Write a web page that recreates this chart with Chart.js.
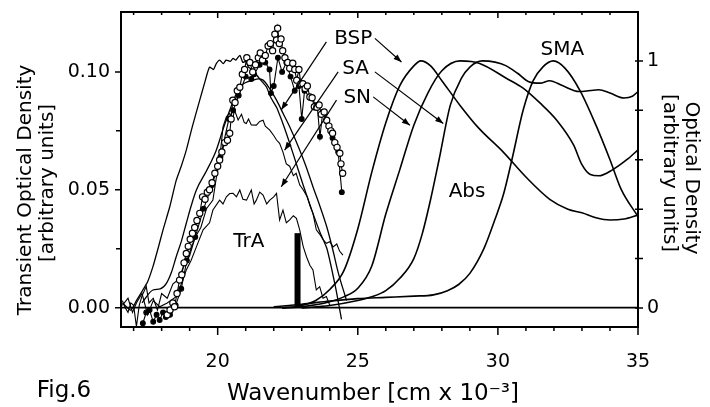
<!DOCTYPE html>
<html>
<head>
<meta charset="utf-8">
<script src="https://cdn.jsdelivr.net/npm/chart.js@4.4.1/dist/chart.umd.min.js"></script>
<style>
  html, body { margin: 0; padding: 0; background: #fff; }
  #wrap { width: 710px; height: 407px; }
</style>
</head>
<body>
<div id="wrap"><canvas id="chart" width="710" height="407"></canvas></div>
<script>
// tick labels
const xTickLabels = [20, 25, 30, 35];
const yLeftTickLabels = ['0.00', '0.05', '0.10'];
const yRightTickLabels = ['0', '1'];

// absorption spectra, right axis [x 10^3 cm-1, OD]
const absBSP = [[22.3,0.0],[23.0,0.01],[23.5,0.03],[24.0,0.075],[24.5,0.15],[25.0,0.32],[25.5,0.55],[26.0,0.75],
  [26.5,0.9],[27.0,0.98],[27.25,1.0],[27.6,0.98],[28.0,0.92],[28.65,0.82],[29.3,0.73],[30.2,0.63],[31.0,0.53],
  [31.85,0.44],[32.5,0.40],[33.0,0.385],[33.5,0.365],[34.0,0.356],[34.5,0.36],[35.0,0.376]];
const absSN = [[22.3,0.0],[23.0,0.005],[24.0,0.025],[24.5,0.045],[25.0,0.08],[25.5,0.17],[26.0,0.38],[26.5,0.56],
  [27.0,0.74],[27.5,0.87],[28.0,0.96],[28.65,1.0],[29.35,0.99],[30.3,0.93],[30.9,0.89],[31.5,0.83],[32.1,0.76],
  [32.7,0.66],[33.0,0.58],[33.3,0.54],[33.6,0.535],[34.1,0.56],[34.6,0.6],[35.0,0.64]];
const absSA = [[23.0,0.0],[24.0,0.01],[25.0,0.03],[25.5,0.045],[26.0,0.07],[26.5,0.12],[27.0,0.2],[27.3,0.3],
  [27.6,0.44],[27.9,0.6],[28.3,0.82],[28.7,0.93],[29.0,0.975],[29.45,1.0],[29.9,0.995],[30.3,0.98],[30.7,0.95],
  [31.1,0.916],[31.5,0.91],[31.85,0.92],[32.3,0.9],[32.9,0.876],[33.3,0.88],[33.6,0.883],[34.0,0.87],[34.5,0.85],
  [34.8,0.857],[35.0,0.876]];
const absSMA = [[22.0,0.005],[23.0,0.015],[24.0,0.028],[25.0,0.038],[26.0,0.043],[27.0,0.048],[27.7,0.053],
  [28.2,0.07],[28.6,0.095],[29.0,0.14],[29.5,0.24],[29.9,0.36],[30.2,0.46],[30.5,0.6],[30.9,0.8],[31.26,0.92],
  [31.6,0.975],[31.98,1.0],[32.4,0.97],[32.93,0.88],[33.5,0.74],[34.0,0.6],[34.4,0.48],[35.0,0.37]];

// transient absorption, left axis
const traBspOpen = [[18.20,-0.003],[18.30,-0.001],[18.40,0.002],[18.46,0.0004],[18.55,0.006],
  [18.64,0.0117],[18.72,0.014],[18.80,0.019],[18.88,0.023],[18.95,0.026],
  [19.02,0.029],[19.10,0.0316],[19.18,0.034],[19.26,0.037],[19.36,0.040],
  [19.46,0.047],[19.55,0.046],[19.63,0.049],[19.71,0.050],[19.80,0.053],
  [19.90,0.057],[20.00,0.060],[20.07,0.0626],[20.15,0.066],[20.25,0.070],
  [20.35,0.071],[20.43,0.074],[20.48,0.080],[20.54,0.088],[20.62,0.087],
  [20.70,0.092],[20.79,0.0935],[20.88,0.099],[20.96,0.101],[21.04,0.106],
  [21.15,0.104],[21.25,0.100],[21.35,0.103],[21.45,0.106],[21.52,0.108],
  [21.60,0.105],[21.70,0.107],[21.80,0.111],[21.88,0.112],[21.96,0.109],
  [22.04,0.116],[22.10,0.1135],[22.14,0.1185],[22.20,0.112],[22.26,0.114],
  [22.32,0.109],[22.40,0.106],[22.50,0.104],[22.57,0.1015],[22.68,0.1037],
  [22.75,0.101],[22.82,0.0965],[22.90,0.101],[22.97,0.095],[23.04,0.095],
  [23.12,0.093],[23.20,0.094],[23.29,0.0894],[23.37,0.089],[23.45,0.0852],
  [23.54,0.085],[23.62,0.086],[23.70,0.082],[23.80,0.083],[23.89,0.0795],
  [23.97,0.077],[24.04,0.075],[24.10,0.074],[24.18,0.070],[24.26,0.068],
  [24.36,0.0655],[24.40,0.061],[24.46,0.057]];
const traBspFilled = [[17.33,-0.0066],[17.45,-0.002],[17.57,-0.001],[17.7,-0.006],[17.82,-0.003],
  [17.93,-0.0052],[18.05,-0.002],[18.15,-0.004],[18.3,-0.003],[18.5,0.001],
  [18.7,0.008],[18.9,0.02],[19.2,0.03],[19.5,0.042],[19.8,0.052],
  [20.1,0.064],[20.4,0.080],[20.55,0.0837],[20.75,0.090],[21.0,0.098],
  [21.2,0.097],[21.3,0.099],[21.5,0.103],[21.7,0.104],[21.85,0.101],
  [21.9,0.091],[22.0,0.094],[22.15,0.106],[22.3,0.100],[22.45,0.104],
  [22.6,0.098],[22.75,0.092],[22.9,0.094],[23.0,0.080],[23.1,0.092],
  [23.3,0.089],[23.55,0.086],[23.65,0.0725],[23.75,0.083],[23.9,0.079],
  [24.1,0.072],[24.3,0.066],[24.43,0.049]];
const traTop = [[16.6,0.002],[16.9,-0.001],[17.1,0.003],[17.33,0.0075],[17.5,0.011],[17.69,0.0174],[17.87,0.025],
  [18.05,0.033],[18.29,0.0428],[18.52,0.054],[18.7,0.06],[18.88,0.0668],[19.1,0.077],[19.36,0.088],[19.55,0.096],
  [19.71,0.102],[19.85,0.101],[19.95,0.1035],[20.07,0.105],[20.2,0.1035],[20.3,0.105],[20.45,0.1045],[20.55,0.1057],
  [20.65,0.105],[20.79,0.107],[20.9,0.104],[21.0,0.1045],[21.1,0.102],[21.26,0.1007],[21.5,0.097],[21.74,0.0936],
  [21.9,0.089],[22.1,0.085],[22.3,0.079],[22.45,0.074],[22.7,0.065],[23.05,0.052],[23.4,0.04],[23.65,0.032],
  [23.9,0.025],[24.2,0.009],[24.42,-0.005]];
const traSmooth = [[17.3,0.002],[17.69,0.0075],[17.95,0.008],[18.17,0.0103],[18.35,0.015],[18.52,0.0216],[18.7,0.028],
  [18.88,0.0358],[19.05,0.043],[19.24,0.0499],[19.6,0.058],[19.95,0.0668],[20.2,0.076],[20.43,0.0837],[20.6,0.089],
  [20.79,0.0936],[21.0,0.0955],[21.26,0.0965],[21.45,0.097],[21.62,0.0965],[21.85,0.093],[22.1,0.088],[22.35,0.082],
  [22.57,0.0767],[22.93,0.0668],[23.15,0.06],[23.4,0.0513],[23.65,0.043],[23.9,0.034],[24.1,0.025],[24.3,0.015],
  [24.6,0.003]];
const traMid = [[16.6,0.003],[16.7,0.0],[16.8,-0.002],[16.9,0.002],[17.0,0.001],[17.1,-0.008],[17.2,0.001],[17.3,0.005],
  [17.45,0.009],[17.55,0.002],[17.7,0.004],[17.85,-0.001],[18.0,0.006],[18.2,0.004],[18.4,0.01],[18.6,0.012],
  [18.8,0.018],[19.0,0.022],[19.2,0.03],[19.4,0.034],[19.6,0.042],[19.83,0.0456],[19.95,0.055],[20.07,0.0626],
  [20.19,0.0767],[20.31,0.081],[20.43,0.0824],[20.52,0.079],[20.6,0.0838],[20.73,0.0796],[20.85,0.082],[20.95,0.0785],
  [21.02,0.0781],[21.1,0.08],[21.2,0.0775],[21.38,0.0774],[21.5,0.079],[21.62,0.0795],[21.7,0.077],[21.86,0.0753],
  [22.0,0.073],[22.1,0.0711],[22.21,0.0697],[22.33,0.066],[22.45,0.061],[22.57,0.06],[22.7,0.056],[22.8,0.057],
  [22.93,0.052],[23.05,0.05],[23.2,0.047],[23.3,0.043],[23.4,0.04],[23.52,0.033],[23.65,0.031],[23.75,0.029],
  [23.88,0.0273],[24.0,0.028],[24.12,0.0258],[24.25,0.027],[24.35,0.024],[24.47,0.0223]];
const traLow = [[16.6,0.001],[16.8,0.004],[16.96,-0.002],[17.1,0.002],[17.3,0.006],[17.5,-0.003],[17.7,0.003],
  [17.93,0.0004],[18.2,0.002],[18.52,0.0047],[18.7,0.01],[18.88,0.016],[19.05,0.02],[19.24,0.0258],[19.48,0.033],
  [19.71,0.036],[19.83,0.0414],[20.07,0.0456],[20.19,0.044],[20.31,0.047],[20.43,0.0484],[20.55,0.0485],[20.67,0.047],
  [20.79,0.0499],[20.9,0.046],[21.03,0.0456],[21.2,0.0499],[21.3,0.044],[21.38,0.0456],[21.5,0.049],[21.62,0.0478],
  [21.75,0.044],[21.86,0.0456],[22.0,0.047],[22.1,0.0485],[22.21,0.0372],[22.33,0.0414],[22.45,0.036],[22.57,0.0372],
  [22.7,0.039],[22.81,0.0379],[22.93,0.0329],[23.05,0.026],[23.17,0.0216],[23.29,0.018],[23.4,0.016],[23.52,0.0075],
  [23.64,0.0089],[23.76,0.004],[23.88,0.0047],[24.0,0.001]];
const baseline = [[16.55,0],[35,0]];
const pumpBar = [[22.85,0],[22.85,0.0316]];

const FONT = '"DejaVu Sans", sans-serif';
const pts = arr => arr.map(([x, y]) => ({x, y}));

function line(data, axis, opts) {
  return Object.assign({
    data: pts(data), yAxisID: axis, borderColor: '#000', borderWidth: 1.3,
    pointRadius: 0, fill: false, tension: 0
  }, opts || {});
}

// labels and arrows sit on the left axis
const notes = [
  {text: 'BSP', x: 24.84, y: 0.1142},
  {text: 'SA', x: 24.92, y: 0.1014},
  {text: 'SN', x: 24.98, y: 0.0891},
  {text: 'TrA', x: 21.11, y: 0.0280},
  {text: 'Abs', x: 28.9, y: 0.0490},
  {text: 'SMA', x: 32.3, y: 0.1092}
];
const arrows = [
  [[23.88,0.1127],[22.27,0.0839]],
  [[24.30,0.1000],[22.39,0.0668]],
  [[24.24,0.0880],[22.27,0.0513]],
  [[25.61,0.1142],[26.56,0.1042]],
  [[25.61,0.1000],[28.05,0.0781]],
  [[25.55,0.0894],[26.86,0.0774]]
];

function arrow(ctx, x1, y1, x2, y2) {
  ctx.beginPath(); ctx.moveTo(x1, y1); ctx.lineTo(x2, y2); ctx.stroke();
  const a = Math.atan2(y2 - y1, x2 - x1), L = 8, W = 3;
  ctx.beginPath();
  ctx.moveTo(x2, y2);
  ctx.lineTo(x2 - L * Math.cos(a) + W * Math.sin(a), y2 - L * Math.sin(a) - W * Math.cos(a));
  ctx.lineTo(x2 - L * Math.cos(a) - W * Math.sin(a), y2 - L * Math.sin(a) + W * Math.cos(a));
  ctx.closePath(); ctx.fill();
}

const isLabelled = (list, v) => list.some(s => Math.abs(parseFloat(s) - v) < 1e-6);

const decor = {
  id: 'decor',
  afterDraw(chart) {
    const {ctx, chartArea: a, scales: {x, y, y2}} = chart;
    ctx.save();
    ctx.strokeStyle = '#000'; ctx.fillStyle = '#000';
    // frame
    ctx.lineWidth = 2;
    ctx.strokeRect(a.left, a.top, a.right - a.left, a.bottom - a.top);
    // tick marks
    ctx.lineWidth = 1.5;
    ctx.beginPath();
    x.ticks.forEach(t => {
      const p = x.getPixelForValue(t.value);
      const major = xTickLabels.includes(t.value);
      ctx.moveTo(p, a.bottom); ctx.lineTo(p, a.bottom + (major ? 8 : 4));
      ctx.moveTo(p, a.top); ctx.lineTo(p, a.top + (major ? 6 : 3));
    });
    y.ticks.forEach(t => {
      const p = y.getPixelForValue(t.value);
      if (p - a.top < 3) return;
      ctx.moveTo(a.left, p); ctx.lineTo(a.left - (isLabelled(yLeftTickLabels, t.value) ? 6 : 5), p);
    });
    y2.ticks.forEach(t => {
      const p = y2.getPixelForValue(t.value);
      ctx.moveTo(a.right - 3, p); ctx.lineTo(a.right + 5, p);
    });
    ctx.stroke();

    // arrows
    ctx.lineWidth = 1.2;
    arrows.forEach(([s, e]) => arrow(ctx,
      x.getPixelForValue(s[0]), y.getPixelForValue(s[1]),
      x.getPixelForValue(e[0]), y.getPixelForValue(e[1])));

    // in-plot labels
    ctx.font = '20px ' + FONT;
    ctx.textAlign = 'center'; ctx.textBaseline = 'middle';
    notes.forEach(n => ctx.fillText(n.text, x.getPixelForValue(n.x), y.getPixelForValue(n.y)));

    // axis titles
    ctx.textBaseline = 'alphabetic';
    ctx.font = '23px ' + FONT;
    ctx.fillText('Wavenumber [cm x 10\u207B\u00B3]', 373, 400);
    ctx.fillText('Fig.6', 64, 397);

    ctx.font = '20px ' + FONT;
    ctx.save(); ctx.translate(31, 190); ctx.rotate(-Math.PI / 2);
    ctx.fillText('Transient Optical Density', 0, 0); ctx.restore();
    ctx.save(); ctx.translate(53, 183); ctx.rotate(-Math.PI / 2);
    ctx.fillText('[arbitrary units]', 0, 0); ctx.restore();

    ctx.save(); ctx.translate(686, 178); ctx.rotate(Math.PI / 2);
    ctx.fillText('Optical Density', 0, 0); ctx.restore();
    ctx.save(); ctx.translate(664, 173); ctx.rotate(Math.PI / 2);
    ctx.fillText('[arbitrary units]', 0, 0); ctx.restore();
    ctx.restore();
  }
};

const tickFont = {family: FONT, size: 19};
const fixV = w => s => { s.width = w; s.paddingTop = 0; s.paddingBottom = 0; };

new Chart(document.getElementById('chart'), {
  type: 'line',
  data: {
    datasets: [
      line(traBspOpen, 'y', {borderWidth: 1.1, pointRadius: 3.1, pointBorderWidth: 1.2,
        pointBackgroundColor: '#fff', pointBorderColor: '#000', order: 0}),
      line(traBspFilled, 'y', {borderWidth: 1.1, pointRadius: 2.4, pointBackgroundColor: '#000',
        pointBorderColor: '#000', order: 1}),
      line(traTop, 'y', {tension: 0.2, order: 2}),
      line(traSmooth, 'y', {cubicInterpolationMode: 'monotone', order: 3}),
      line(traMid, 'y', {borderWidth: 1.1, order: 4}),
      line(traLow, 'y', {borderWidth: 1.1, order: 5}),
      line(absBSP, 'y2', {cubicInterpolationMode: 'monotone', borderWidth: 1.6, order: 6}),
      line(absSN, 'y2', {cubicInterpolationMode: 'monotone', borderWidth: 1.6, order: 7}),
      line(absSA, 'y2', {cubicInterpolationMode: 'monotone', borderWidth: 1.6, order: 8}),
      line(absSMA, 'y2', {cubicInterpolationMode: 'monotone', borderWidth: 1.6, order: 9}),
      line(baseline, 'y', {borderWidth: 1.8, order: 10}),
      line(pumpBar, 'y', {borderWidth: 6, borderCapStyle: 'butt', order: 11})
    ]
  },
  options: {
    responsive: false,
    devicePixelRatio: 1,
    animation: false,
    layout: {padding: {top: 12, left: 0, right: 0, bottom: 0}},
    plugins: {legend: {display: false}, tooltip: {enabled: false}},
    scales: {
      x: {
        type: 'linear', min: 16.55, max: 35,
        grid: {display: false, drawTicks: false}, border: {display: false},
        ticks: {stepSize: 1, autoSkip: false, includeBounds: false, maxRotation: 0, padding: 24,
          color: '#000', font: tickFont,
          callback: v => xTickLabels.includes(v) ? String(v) : ''},
        afterFit: s => { s.height = 80; s.paddingLeft = 0; s.paddingRight = 0; }
      },
      y: {
        type: 'linear', position: 'left', min: -0.0082, max: 0.1254,
        grid: {display: false, drawTicks: false}, border: {display: false},
        ticks: {stepSize: 0.025, autoSkip: false, includeBounds: false, padding: 11,
          color: '#000', font: tickFont,
          callback: v => yLeftTickLabels.find(s => Math.abs(parseFloat(s) - v) < 1e-6) || ''},
        afterFit: fixV(121)
      },
      y2: {
        type: 'linear', position: 'right', min: -0.077, max: 1.198,
        grid: {display: false, drawTicks: false}, border: {display: false},
        ticks: {stepSize: 0.2, autoSkip: false, includeBounds: false, padding: 9,
          color: '#000', font: tickFont,
          callback: v => yRightTickLabels.find(s => Math.abs(parseFloat(s) - v) < 1e-6) || ''},
        afterFit: fixV(72)
      }
    }
  },
  plugins: [decor]
});
</script>
</body>
</html>
